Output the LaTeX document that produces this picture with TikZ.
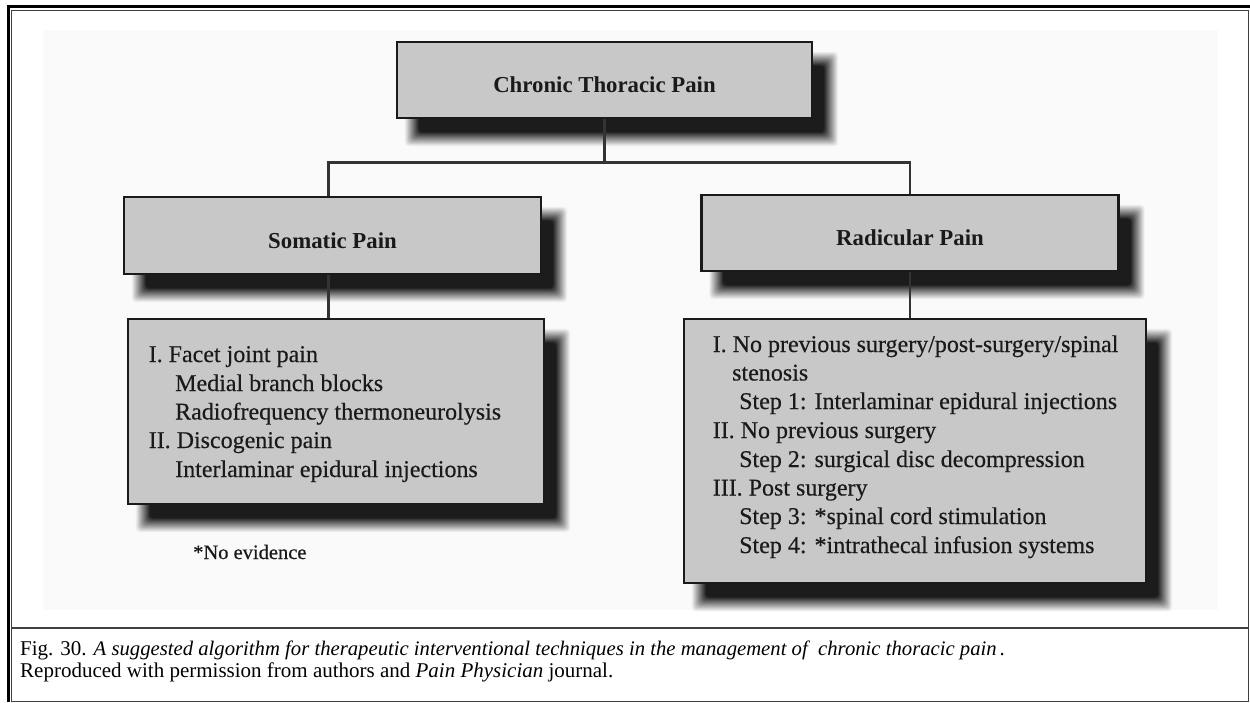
\documentclass[tikz,border=0pt]{standalone}
\usepackage{fontspec}
\setmainfont{Liberation Serif}
\usetikzlibrary{calc}
\pgfdeclarelayer{back}
\pgfdeclarelayer{shadow}
\pgfsetlayers{back,shadow,main}
\definecolor{boxgray}{HTML}{C8C8C8}
\definecolor{ink}{HTML}{1A1A1A}
\definecolor{pagebg}{HTML}{FAFAFA}
\tikzset{
  titlebox/.style={draw=ink, line width=2.8pt, fill=boxgray, inner sep=0pt,
    text height=25pt, text depth=0pt, text=ink,
    font=\fontsize{22.8}{27}\selectfont\bfseries},
  listbox/.style={draw=ink, line width=2.8pt, fill=boxgray, inner sep=0pt},
  item/.style={anchor=base west, inner sep=0pt, text=ink,
    font=\fontsize{24}{29}\selectfont\addfontfeature{FakeBold=0.4}},
  conn/.style={draw=black!80, line width=2.5pt},
  captxt/.style={anchor=base west, inner sep=0pt, text=black,
    font=\fontsize{21}{24}\selectfont},
}
\newcommand{\boxshadow}[1]{%
  \begin{pgfonlayer}{shadow}
    \foreach \kk in {0,...,14}{%
      \pgfmathsetmacro{\sg}{8-\kk}%
      \pgfmathsetmacro{\sc}{5+6*\kk}%
      \fill[black!\sc, rounded corners=4pt]
        ([shift={(17-\sg,19-\sg)}]#1.north west) rectangle
        ([shift={(17+\sg,19+\sg)}]#1.south east);
    }
  \end{pgfonlayer}}
\begin{document}
\begin{tikzpicture}[x=1pt,y=-1pt]
\useasboundingbox (0,0) rectangle (1250,702);
\begin{pgfonlayer}{back}
\fill[white] (0,0) rectangle (1250,702);
\fill[pagebg] (43,30) rectangle (1218,610);
\end{pgfonlayer}
% frame
\draw[black!75, line width=1pt] (11.5,10.5) rectangle (1248.5,701);
\draw[black, line width=3pt] (8,702) -- (8,6) -- (1250,6);
\draw[black!75, line width=1.8pt] (11.5,628) -- (1248.5,628);

% boxes
\node[titlebox, minimum width=415pt, minimum height=76pt] (ctp) at (604.5,80) {Chronic Thoracic Pain};
\node[titlebox, minimum width=417pt, minimum height=77pt] (som) at (332.5,235.5) {Somatic Pain};
\node[titlebox, minimum width=417pt, minimum height=76pt] (rad) at (910,233) {Radicular Pain};
\node[listbox, minimum width=416pt, minimum height=185pt] (soml) at (336,411.5) {};
\node[listbox, minimum width=462pt, minimum height=264pt] (radl) at (915,451) {};
\boxshadow{ctp}
\boxshadow{som}
\boxshadow{rad}
\boxshadow{soml}
\boxshadow{radl}

% connectors
\path (ctp.south) ++(0,43) coordinate (j);
\draw[conn] (ctp.south) -- (j);
\draw[conn] ([xshift=-4pt]som.north) |- (j) -| (rad.north);
\draw[conn] ([xshift=-4pt]som.south) -- ([xshift=-4pt]som.south |- soml.north);
\draw[conn] (rad.south) -- (rad.south |- radl.north);

% somatic list
\node[item] (s1) at (148.5,362) {I. Facet joint pain};
\node[item] (s2) at (175,391) {Medial branch blocks};
\node[item] (s3) at (175,419.5) {Radiofrequency thermoneurolysis};
\node[item] (s4) at (148.5,448) {II. Discogenic pain};
\node[item] (s5) at (175,477) {Interlaminar epidural injections};

% radicular list
\node[item] (r1) at (712.5,352) {I. No previous surgery/post-surgery/spinal};
\node[item] (r2) at (732,380.5) {stenosis};
\node[item] (r3) at (739,409) {Step 1: Interlaminar epidural injections};
\node[item] (r4) at (712.5,438) {II. No previous surgery};
\node[item] (r5) at (739,467) {Step 2: surgical disc decompression};
\node[item] (r6) at (712.5,495.5) {III. Post surgery};
\node[item] (r7) at (739,524) {Step 3: *spinal cord stimulation};
\node[item] (r8) at (739,553) {Step 4: *intrathecal infusion systems};

% note
\node[item, font=\fontsize{20.5}{24}\selectfont\addfontfeature{FakeBold=0.4}] (note) at (193,559) {*No evidence};

% caption
\node[captxt] (cap1) at (20,655) {Fig. 30. {\itshape\fontsize{20.7}{24}\selectfont A suggested algorithm for therapeutic interventional techniques in the management of\ \ chronic thoracic pain\,.}};
\node[captxt] (cap2) at (20,677) {Reproduced with permission from authors and \textit{Pain Physician} journal.};
\end{tikzpicture}
\end{document}
